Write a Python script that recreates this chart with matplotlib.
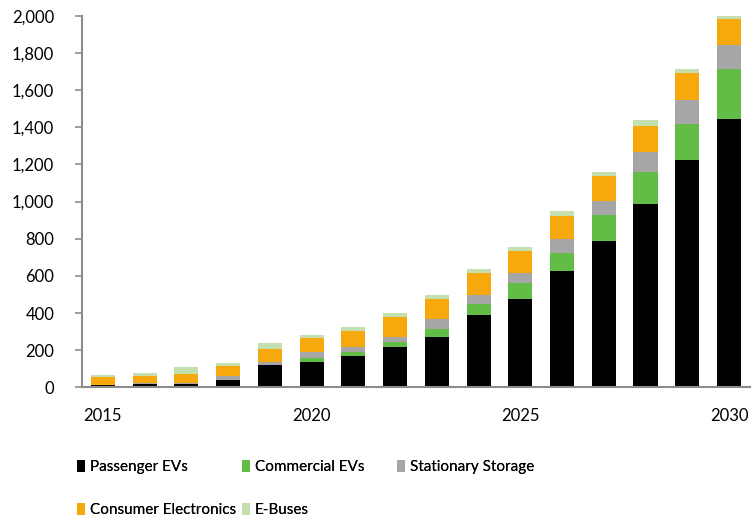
import matplotlib
matplotlib.use("Agg")
import matplotlib.pyplot as plt
from matplotlib.patches import Patch

plt.rcParams['font.family'] = ['Lato', 'DejaVu Sans']

years = list(range(2015, 2031))
passenger = [12, 20, 20, 42, 119, 139, 172, 216, 270, 390, 474, 628, 790, 985, 1223, 1445]
commercial = [0, 0, 0, 0, 2, 20, 21, 31, 42, 61, 87, 95, 139, 173, 196, 270]
stationary = [2, 2, 2, 19, 18, 34, 23, 23, 54, 45, 54, 76, 76, 108, 130, 130]
consumer = [40, 41, 52, 54, 67, 74, 87, 107, 110, 119, 119, 121, 131, 142, 141, 140]
ebuses = [14, 15, 35, 15, 34, 14, 22, 23, 22, 23, 23, 32, 22, 31, 21, 12]

series_names = ["Passenger EVs", "Commercial EVs", "Stationary Storage",
                "Consumer Electronics", "E-Buses"]
series_vals = [passenger, commercial, stationary, consumer, ebuses]
colors = ["#000000", "#63BC46", "#A6A6A6", "#F7A80C", "#C3E0AE"]

ytick_vals = list(range(0, 2001, 200))
xtick_vals = [2015, 2020, 2025, 2030]

fig = plt.figure(figsize=(7.56, 5.19), dpi=100)
ax = fig.add_axes([0.1085, 0.2534, 0.8835, 0.7163])

bottom = [0] * len(years)
for name, vals, c in zip(series_names, series_vals, colors):
    ax.bar(years, vals, width=0.58, bottom=bottom, color=c, label=name, linewidth=0)
    bottom = [b + v for b, v in zip(bottom, vals)]

ax.set_xlim(2014.5, 2030.5)
ax.set_ylim(0, 2000)
ax.set_yticks(ytick_vals)
ax.set_yticklabels([f"{v:,}" for v in ytick_vals])
ax.set_xticks(xtick_vals)
ax.set_xticklabels([str(v) for v in xtick_vals])

for s in ["top", "right"]:
    ax.spines[s].set_visible(False)
for s in ["left", "bottom"]:
    ax.spines[s].set_color("#8C8C8C")
    ax.spines[s].set_linewidth(1.5)

ax.tick_params(axis="y", length=5, width=1.2, color="#8C8C8C", pad=15,
               labelsize=12, labelcolor="#000000")
ax.tick_params(axis="x", length=0, pad=15, labelsize=12, labelcolor="#000000")

# legend entries placed in Excel-like fixed columns
positions = [(77, 467), (242, 467), (397, 467), (77, 510), (242, 510)]
for (name, c), (px, py) in zip(zip(series_names, colors), positions):
    leg = fig.legend(handles=[Patch(facecolor=c, edgecolor='none', label=name)],
                     loc="center left",
                     bbox_to_anchor=(px / 756, 1 - py / 519),
                     frameon=False, fontsize=11, borderpad=0, borderaxespad=0,
                     handlelength=0.5, handleheight=0.8, handletextpad=0.35)
    fig.add_artist(leg)

fig.savefig("out.png", dpi=100)
